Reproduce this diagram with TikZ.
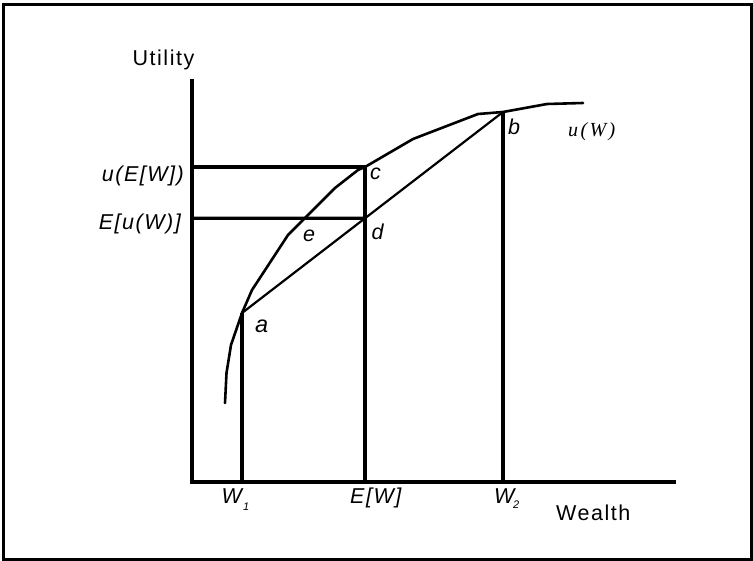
\documentclass[tikz,border=0pt]{standalone}
\usepackage{fontspec}
\usetikzlibrary{calc}
\setmainfont{Liberation Sans}
\newfontfamily\lblfont[LetterSpace=7]{Liberation Sans}
\newfontfamily\ptfont{Liberation Sans}
\newfontfamily\serlbl[LetterSpace=12]{Liberation Serif}
\begin{document}
\begin{tikzpicture}[x=1pt,y=-1pt,
  frame/.style={line width=3.2pt},
  axis/.style={line width=3.3pt},
  guide/.style={line width=3.3pt},
  chord/.style={line width=2.2pt},
  ucurve/.style={line width=2.6pt,line join=round,line cap=round},
  axlabel/.style={inner sep=0pt,font=\lblfont\fontsize{21.5}{22}\selectfont},
  itlabel/.style={inner sep=0pt,font=\lblfont\itshape\fontsize{21.5}{22}\selectfont},
  xlabel/.style={inner sep=0pt,font=\lblfont\itshape\fontsize{21.5}{22}\selectfont},
  ptlabel/.style={inner sep=0pt,font=\ptfont\itshape\fontsize{21.5}{22}\selectfont},
  sublabel/.style={inner sep=0pt,font=\ptfont\itshape\fontsize{11}{11}\selectfont},
  funlabel/.style={inner sep=0pt,font=\serlbl\itshape\fontsize{20}{20}\selectfont}]
\useasboundingbox (0,0) rectangle (753,561);
\draw[frame] (3.5,4.5) rectangle (751.5,559.5);
% key points
\coordinate (O) at (192,482);
\coordinate (ytop) at (192,79);
\coordinate (xend) at (676,482);
\coordinate (a) at (242,313);
\coordinate (b) at (503,112);
\coordinate (c) at (365,167);
\coordinate (d) at ($(a)!0.4713!(b)$);
\coordinate (W1foot) at (242,482);
\coordinate (EWfoot) at (365,482);
\coordinate (W2foot) at (503,482);
\coordinate (ucL) at (192,167);
\coordinate (udL) at (192,218.3);
% axes
\draw[axis] (ytop) -- (O) -- (xend);
% guides
\draw[guide] (ucL) -- (c) -- (EWfoot);
\draw[guide] (udL) -- (d);
\draw[guide] (a) -- (W1foot);
\draw[guide] (b) -- (W2foot);
% chord
\draw[chord] (a) -- (b);
% utility curve
\draw[ucurve] (225,403) -- (226.5,373) -- (231,345) -- (a) -- (252,290) -- (288,235) -- (335,188) -- (358,170) -- (c) -- (413,139) -- (478,114) -- (b) -- (547,104) -- (583,103);
% labels
\node[axlabel,anchor=base] (utl) at (163.5,66) {Utility};
\node[axlabel,anchor=base west] (wlt) at (556,520) {Wealth};
\node[itlabel,anchor=base east] (uEW) at (184,182) {u(E[W])};
\node[itlabel,anchor=base east] (Euw) at (181,230) {E[u(W)]};
\node[xlabel,anchor=base west] (w1) at (221.5,503) {W};
\node[sublabel,anchor=base west] (w1s) at (243,510) {1};
\node[xlabel,anchor=base west] (ew) at (350,503) {E[W]};
\node[xlabel,anchor=base west] (w2) at (494,503) {W};
\node[sublabel,anchor=base west] (w2s) at (513,508) {2};
\node[ptlabel,anchor=base west,font=\ptfont\itshape\fontsize{23.5}{24}\selectfont] (la) at (255,333) {a};
\node[ptlabel,anchor=base west] (lb) at (508,135) {b};
\node[ptlabel,anchor=base west] (lc) at (370,180) {c};
\node[ptlabel,anchor=base west] (ld) at (371.5,240) {d};
\node[ptlabel,anchor=base west] (le) at (303,241.5) {e};
\node[funlabel,anchor=base west] (uw) at (568,137) {u(W)};
\end{tikzpicture}
\end{document}
